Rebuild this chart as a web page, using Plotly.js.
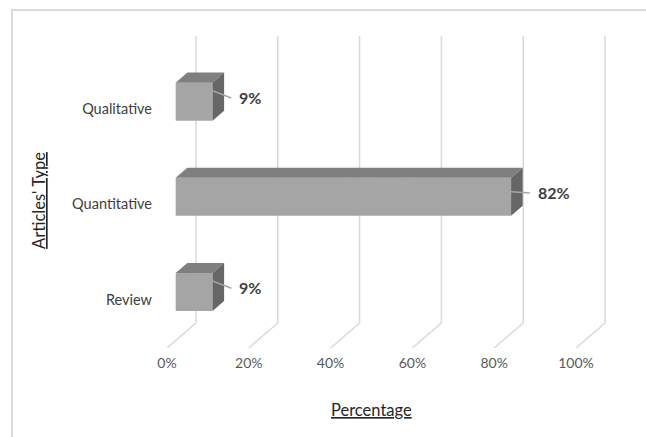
<!DOCTYPE html>
<html>
<head>
<meta charset="utf-8">
<script src="https://cdn.plot.ly/plotly-3.0.1.min.js"></script>
<style>
  html, body { margin: 0; padding: 0; background: #ffffff; overflow: hidden; }
  #frame { position: absolute; left: 11px; top: 9px; width: 700px; height: 500px;
           border: 2px solid #d9d9d9; box-sizing: border-box; }
  #chart { position: absolute; left: 0; top: 0; width: 646px; height: 437px; }
</style>
</head>
<body>
<div id="frame"></div>
<div id="chart"></div>
<script>
// ---- data ----
const categories = ['Review', 'Quantitative', 'Qualitative'];   // bottom -> top
const values = [9, 82, 9];                                          // percent
const tickVals = [0, 20, 40, 60, 80, 100];
const tickText = ['0%', '20%', '40%', '60%', '80%', '100%'];
const xTitle = 'Percentage';
const yTitle = "Articles' Type";

// ---- geometry / style (pseudo-3D) ----
const FONT = "Lato, 'Open Sans', sans-serif";
const xRange = [-1.71, 108.31];
const yRange = [-0.51, 2.769];
const floorDX = 7.09;    // depth shift of the back wall, x units
const floorDY = 0.263;   // depth shift of the back wall, y units
const barFront = 0.3, barDepth = 0.4;
const bx = barFront * floorDX, by = barFront * floorDY;
const dX = barDepth * floorDX, dY = barDepth * floorDY;
const barWidth = 0.4, barOffset = by - barWidth / 2;
const labelGap = 6.1, labelLift = 0.049;

const idx = categories.map((c, i) => i);

const shapes = [];
// gridlines: back wall vertical + floor diagonal
tickVals.forEach(v => {
  shapes.push({
    type: 'path', xref: 'x', yref: 'y', layer: 'below',
    path: `M ${v + floorDX},${yRange[1]} L ${v + floorDX},${yRange[0] + floorDY} L ${v},${yRange[0]}`,
    line: { color: '#d9d9d9', width: 1.5 }
  });
});
// bar top and right faces
values.forEach((v, i) => {
  const x0 = bx, x1 = bx + v;
  const yT = i + barOffset + barWidth, yB = i + barOffset;
  shapes.push({
    type: 'path', xref: 'x', yref: 'y', layer: 'above',
    path: `M ${x0},${yT} L ${x1},${yT} L ${x1 + dX},${yT + dY} L ${x0 + dX},${yT + dY} Z`,
    fillcolor: '#7f7f7f', line: { width: 0 }
  });
  shapes.push({
    type: 'path', xref: 'x', yref: 'y', layer: 'above',
    path: `M ${x1},${yT} L ${x1},${yB} L ${x1 + dX},${yB + dY} L ${x1 + dX},${yT + dY} Z`,
    fillcolor: '#666666', line: { width: 0 }
  });
  // leader line
  shapes.push({
    type: 'line', xref: 'x', yref: 'y', layer: 'above',
    x0: bx + v / 2, y0: yT - 0.01,
    x1: bx + v + labelGap - 1.5, y1: i + by + labelLift - 0.01,
    line: { color: '#a6a6a6', width: 1.5 }
  });
});

const annotations = values.map((v, i) => ({
  xref: 'x', yref: 'y', x: bx + v + labelGap, y: i + by + labelLift,
  xanchor: 'left', yanchor: 'middle', showarrow: false,
  text: '<b>' + v + '%</b>',
  font: { family: FONT, size: 16, color: '#404040' }
}));
annotations.push({
  xref: 'x', yref: 'paper', x: 50, y: -0.199, xanchor: 'center', yanchor: 'middle',
  showarrow: false,
  text: '<span style="text-decoration:underline">' + xTitle + '</span>',
  font: { family: FONT, size: 16.5, color: '#262626' }
});
annotations.push({
  xref: 'paper', yref: 'y', x: -0.269, y: 1.046, xanchor: 'center', yanchor: 'middle',
  showarrow: false, textangle: -90,
  text: '<span style="text-decoration:underline">' + yTitle + '</span>',
  font: { family: FONT, size: 16.5, color: '#262626' }
});

const trace = {
  type: 'bar', orientation: 'h',
  x: values, y: idx, base: bx,
  width: barWidth, offset: barOffset,
  marker: { color: '#a5a5a5', line: { width: 0 } },
  hoverinfo: 'skip'
};

const layout = {
  width: 646, height: 437,
  margin: { l: 160, r: 36, t: 36, b: 89 },
  paper_bgcolor: 'rgba(0,0,0,0)', plot_bgcolor: 'rgba(0,0,0,0)',
  showlegend: false,
  xaxis: {
    range: xRange, tickvals: tickVals, ticktext: tickText,
    showgrid: false, zeroline: false, showline: false, ticks: '',
    ticklabelstandoff: 5,
    tickfont: { family: FONT, size: 14, color: '#595959' }
  },
  yaxis: {
    range: yRange, tickvals: idx, ticktext: categories,
    showgrid: false, zeroline: false, showline: false, ticks: '',
    ticklabelstandoff: 7,
    tickfont: { family: FONT, size: 14.5, color: '#404040' }
  },
  shapes: shapes,
  annotations: annotations
};

Plotly.newPlot('chart', [trace], layout, { displayModeBar: false, staticPlot: true });
</script>
</body>
</html>
